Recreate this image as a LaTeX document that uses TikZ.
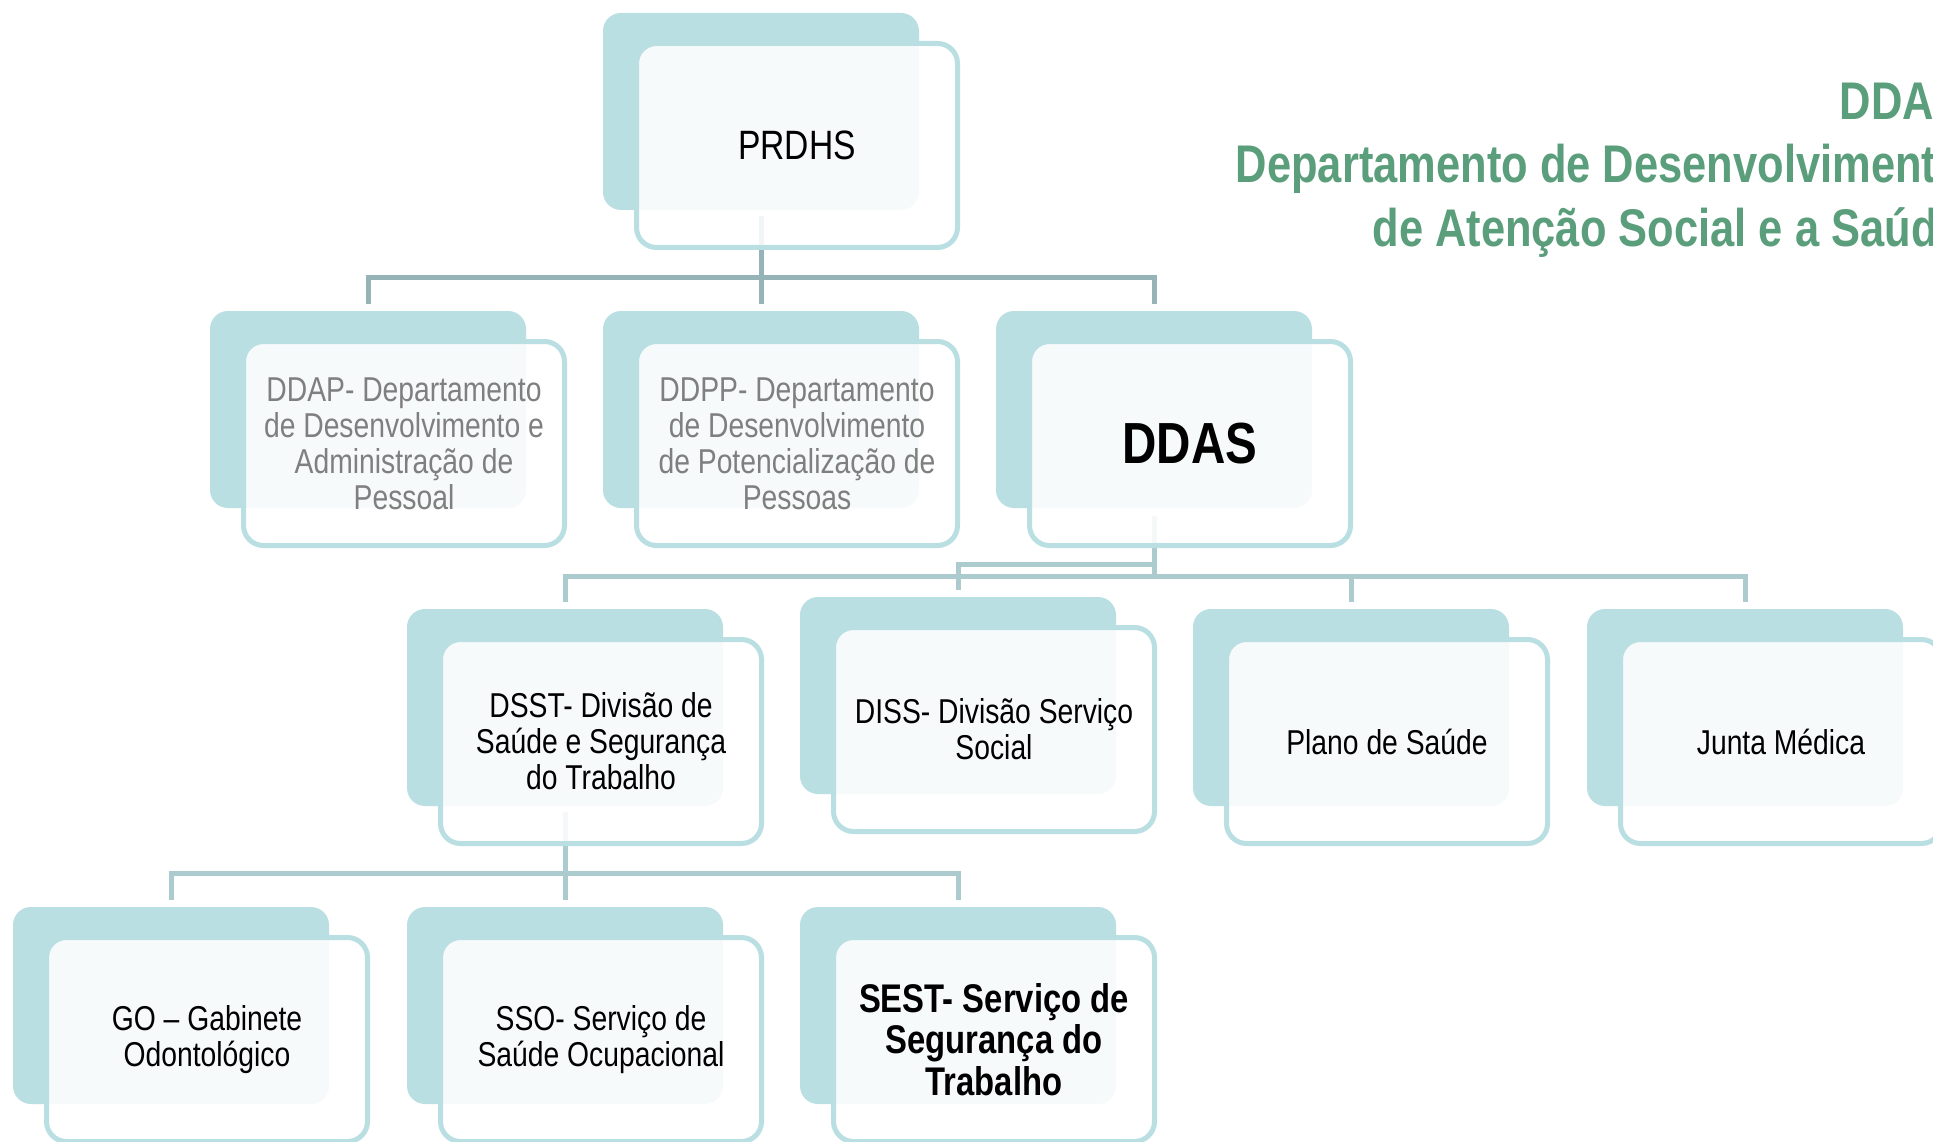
\documentclass[tikz,border=0pt]{standalone}
\usepackage{fontspec}
\setmainfont{Liberation Sans}[FakeStretch=0.82]
\usetikzlibrary{calc}
\definecolor{boxteal}{HTML}{BADFE2}
\definecolor{linetop}{HTML}{96B3B7}
\definecolor{linelow}{HTML}{ABCBCE}
\definecolor{greytext}{HTML}{7F7F7F}
\definecolor{titlegreen}{HTML}{5A9E7B}
\begin{document}
\begin{tikzpicture}[x=1pt,y=-1pt,
  backbox/.style={rectangle, rounded corners=18pt, fill=boxteal, minimum width=316pt, minimum height=197pt, inner sep=0pt},
  frontbox/.style={rectangle, rounded corners=20pt, draw=boxteal, line width=5pt, fill=white, fill opacity=0.87, text opacity=1, minimum width=321pt, minimum height=204pt, inner sep=0pt, align=center, font=\fontsize{34.5}{36}\selectfont},
  bigbox/.style={frontbox, font=\fontsize{41}{45}\selectfont},
  greybox/.style={frontbox, text=greytext},
  boldbox/.style={frontbox, font=\fontsize{40}{41.5}\selectfont\bfseries},
  hugebox/.style={frontbox, font=\fontsize{58}{62}\selectfont\bfseries},
  conn/.style={line width=5pt},
  titletext/.style={font=\fontsize{53}{63}\selectfont\bfseries, text=titlegreen, inner sep=0pt, anchor=base east},
]
\useasboundingbox (0,0) rectangle (1933,1142);
\fill[white] (0,0) rectangle (1933,1142);
\clip (0,0) rectangle (1933,1142);

% title
\node[titletext] (title1) at (1963,120) {DDAS};
\node[titletext] (title2) at (1963,183) {Departamento de Desenvolvimento};
\node[titletext] (title3) at (1962,247) {de Atenção Social e a Saúde};

% back boxes
\node[backbox] (b-prdhs) at (761,111.5) {};
\node[backbox] (b-ddap) at (368,409.5) {};
\node[backbox] (b-ddpp) at (761,409.5) {};
\node[backbox] (b-ddas) at (1154,409.5) {};
\node[backbox] (b-dsst) at (565,707.5) {};
\node[backbox] (b-diss) at (958,695.5) {};
\node[backbox] (b-plano) at (1351,707.5) {};
\node[backbox] (b-junta) at (1745,707.5) {};
\node[backbox] (b-go) at (171,1005.5) {};
\node[backbox] (b-sso) at (565,1005.5) {};
\node[backbox] (b-sest) at (958,1005.5) {};

% bus levels
\coordinate (bus1) at (0,277);
\coordinate (bus2) at (0,576);
\coordinate (bus2d) at (0,564);
\coordinate (bus3) at (0,873);

% connectors
\draw[conn, draw=linetop] ([yshift=-6pt]b-prdhs.south) |- (b-ddap.north |- bus1) -- ([yshift=7pt]b-ddap.north);
\draw[conn, draw=linetop] ([yshift=-6pt]b-prdhs.south) -- ([yshift=7pt]b-ddpp.north);
\draw[conn, draw=linetop] ([yshift=-6pt]b-prdhs.south) |- (b-ddas.north |- bus1) -- ([yshift=7pt]b-ddas.north);

\draw[conn, draw=linelow] ([yshift=-8pt]b-ddas.south) |- (b-dsst.north |- bus2) -- ([yshift=7pt]b-dsst.north);
\draw[conn, draw=linelow] ([yshift=-8pt]b-ddas.south) |- (b-diss.north |- bus2d) -- ([yshift=7pt]b-diss.north);
\draw[conn, draw=linelow] ([yshift=-8pt]b-ddas.south) |- (b-plano.north |- bus2) -- ([yshift=7pt]b-plano.north);
\draw[conn, draw=linelow] ([yshift=-8pt]b-ddas.south) |- (b-junta.north |- bus2) -- ([yshift=7pt]b-junta.north);

\draw[conn, draw=linelow] ([yshift=-6pt]b-dsst.south) |- (b-go.north |- bus3) -- ([yshift=7pt]b-go.north);
\draw[conn, draw=linelow] ([yshift=-6pt]b-dsst.south) -- ([yshift=7pt]b-sso.north);
\draw[conn, draw=linelow] ([yshift=-6pt]b-dsst.south) |- (b-sest.north |- bus3) -- ([yshift=7pt]b-sest.north);

% front boxes
\node[bigbox] (prdhs) at (797,145.5) {PRDHS};
\node[greybox] (ddap) at (404,443.5) {DDAP- Departamento\\de Desenvolvimento e\\Administração de\\Pessoal};
\node[greybox] (ddpp) at (797,443.5) {DDPP- Departamento\\de Desenvolvimento\\de Potencialização de\\Pessoas};
\node[hugebox] (ddas) at (1190,443.5) {DDAS};
\node[frontbox] (dsst) at (601,741.5) {DSST- Divisão de\\Saúde e Segurança\\do Trabalho};
\node[frontbox] (diss) at (994,729.5) {DISS- Divisão Serviço\\Social};
\node[frontbox] (plano) at (1387,741.5) {Plano de Saúde};
\node[frontbox] (junta) at (1781,741.5) {Junta Médica};
\node[frontbox] (go) at (207,1039.5) {GO – Gabinete\\Odontológico};
\node[frontbox] (sso) at (601,1039.5) {SSO- Serviço de\\Saúde Ocupacional};
\node[boldbox] (sest) at (994,1039.5) {SEST- Serviço de\\Segurança do\\Trabalho};
\end{tikzpicture}
\end{document}
